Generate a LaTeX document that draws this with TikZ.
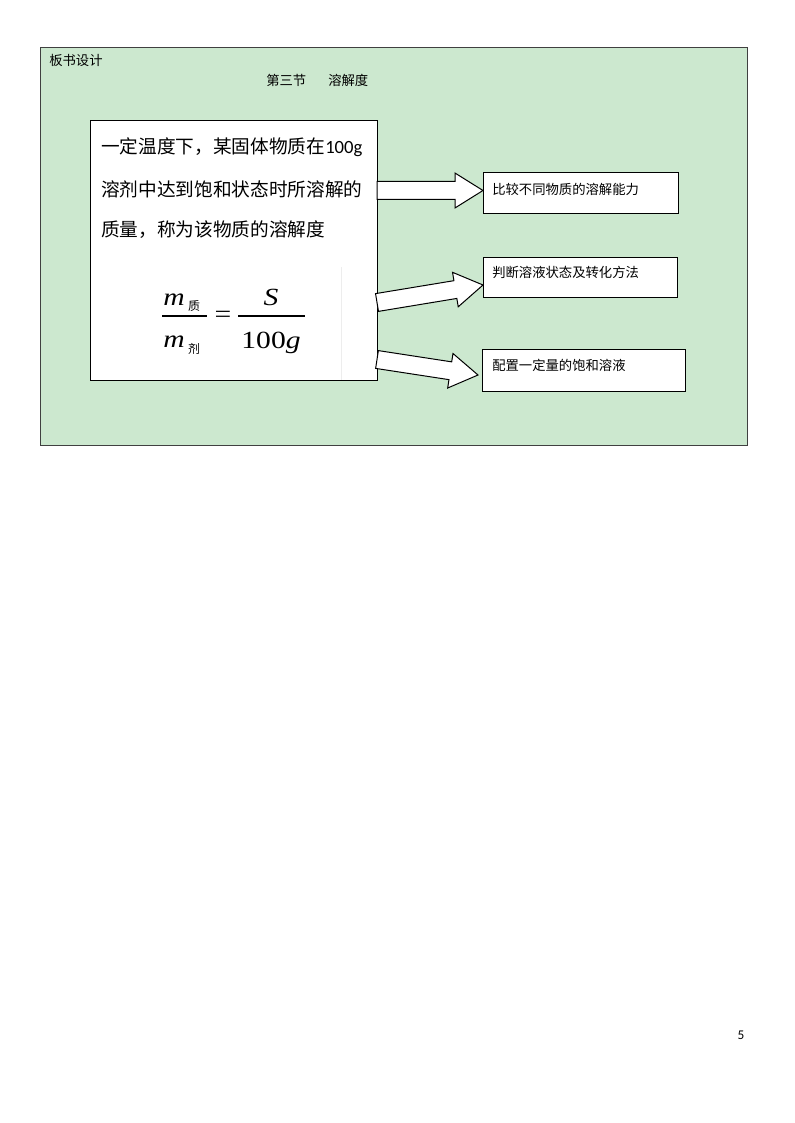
\documentclass[tikz,border=0pt]{standalone}
\usepackage{fontspec}
\setmainfont{Noto Sans CJK SC}
\newfontfamily\lat{Carlito}
\newfontfamily\tm{Liberation Serif}
\usetikzlibrary{calc,fit}
\definecolor{bggreen}{RGB}{204,232,207}
\definecolor{framegray}{RGB}{64,64,64}
\tikzset{
  panel/.style={draw=framegray, fill=bggreen, line width=0.75pt, inner sep=0pt},
  whitebox/.style={draw=black, fill=white, line width=0.75pt, inner sep=0pt},
  smalltext/.style={font=\fontsize{10pt}{12pt}\selectfont, inner sep=0pt, anchor=west},
  bigtext/.style={font=\fontsize{14pt}{16pt}\selectfont, inner sep=0pt, anchor=west},
  mathtext/.style={font=\tm\fontsize{18.5pt}{22pt}\selectfont, inner sep=0pt},
  subtext/.style={font=\fontsize{9pt}{10pt}\selectfont, inner sep=0pt},
  arrowbox/.style={draw=black, fill=white, line width=0.75pt, line join=miter},
  fracbar/.style={line width=0.9pt},
}
\newcommand\blockarrow[2]{%
  \coordinate (#1-base) at ($(#2)!21pt!(#1)$);
  \draw[arrowbox] ($(#1)!6.75pt!90:(#2)$) -- ($(#1-base)!6.75pt!90:(#2)$)
    -- ($(#1-base)!13.1pt!90:(#2)$) -- (#2)
    -- ($(#1-base)!13.1pt!-90:(#2)$) -- ($(#1-base)!6.75pt!-90:(#2)$)
    -- ($(#1)!6.75pt!-90:(#2)$) -- cycle;}
\begin{document}
\begin{tikzpicture}[x=0.75pt,y=-0.75pt]
\useasboundingbox (0,0) rectangle (794,1123);
% panel
\node[panel, fit={(40,48) (747,445)}] (panel) {};
\node[smalltext] (title) at (49,60) {板书设计};
\node[smalltext] (sec) at (266,80) {第三节};
\node[smalltext] (topic) at (328,80) {溶解度};
% main box
\node[whitebox, fit={(90,121) (377,380)}] (main) {};
\node[bigtext] (l1) at (101,147.5) {一定温度下，某固体物质在{\lat 100g}};
\node[bigtext] (l2) at (101,189.5) {溶剂中达到饱和状态时所溶解的};
\node[bigtext] (l3) at (101,230) {质量，称为该物质的溶解度};
\draw[black!7] (341,267) -- (341,379.5);
% formula
\node[mathtext, anchor=base] (mt) at (174,305) {\scalebox{1.2}[1]{\itshape m}};
\node[subtext] (zhi) at (194,306) {质};
\node[mathtext, anchor=base] (mb) at (174,347) {\scalebox{1.2}[1]{\itshape m}};
\node[subtext] (ji) at (194,349) {剂};
\draw[fracbar] (162,316) -- (207,316);
\node[mathtext] (eq) at (223,317) {\scalebox{1.2}[1]{=}};
\node[mathtext, anchor=base] (S) at (271,305) {\scalebox{1.2}[1]{\itshape S}};
\node[mathtext, anchor=base] (hg) at (271,348) {\scalebox{1.2}[1]{100\itshape g}};
\draw[fracbar] (238,316) -- (305,316);
% target boxes
\node[whitebox, fit={(483,173) (678,214)}] (b1) {};
\node[smalltext] (t1) at (492,189) {比较不同物质的溶解能力};
\node[whitebox, fit={(483,257) (677,297)}] (b2) {};
\node[smalltext] (t2) at (492,272) {判断溶液状态及转化方法};
\node[whitebox, fit={(482,349) (685,391)}] (b3) {};
\node[smalltext] (t3) at (492,365) {配置一定量的饱和溶液};
% arrows
\coordinate (a1s) at (377,190.5);
\coordinate (a1e) at (483,190.5);
\coordinate (a2s) at (377,302.5);
\coordinate (a2e) at (483,285);
\coordinate (a3s) at (377,359.5);
\coordinate (a3e) at (478,375);
\blockarrow{a1s}{a1e}
\blockarrow{a2s}{a2e}
\blockarrow{a3s}{a3e}
% page number
\node[font=\lat\fontsize{10pt}{12pt}\selectfont, inner sep=0pt] (pg) at (741,1035) {5};
\end{tikzpicture}
\end{document}
